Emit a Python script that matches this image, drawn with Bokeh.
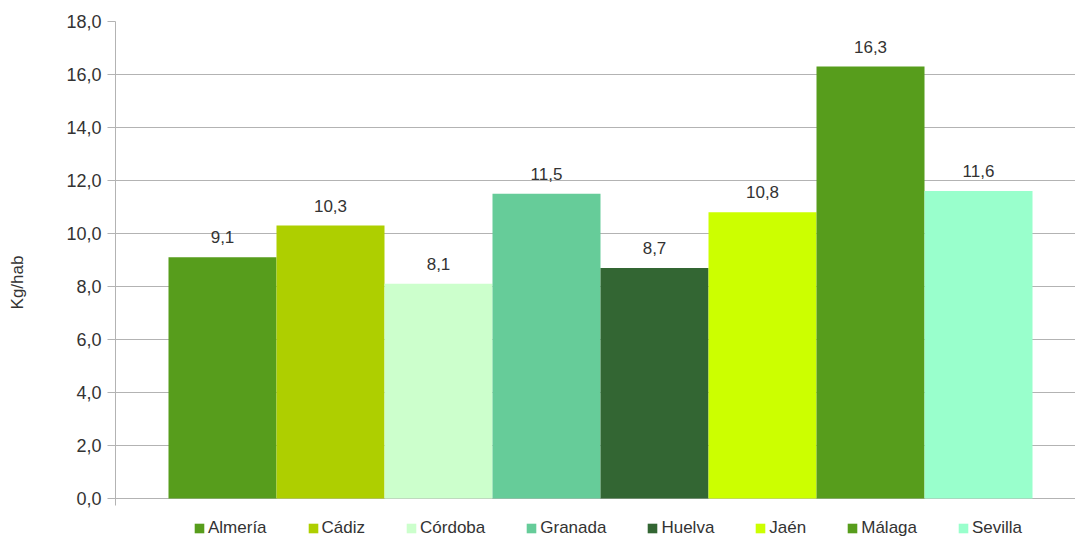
from bokeh.plotting import figure
from bokeh.models import ColumnDataSource, Legend, LegendItem, CustomJSTickFormatter, FixedTicker, Range1d
from bokeh.core.properties import value
from bokeh.embed import file_html
from bokeh.resources import INLINE

provinces = ["Almería", "Cádiz", "Córdoba", "Granada", "Huelva", "Jaén", "Málaga", "Sevilla"]
values = [9.1, 10.3, 8.1, 11.5, 8.7, 10.8, 16.3, 11.6]
colors = ["#579d1c", "#aecf00", "#ccffcc", "#66cc99", "#336633", "#ccff00", "#579d1c", "#99ffcc"]
y_ticks = [0, 2, 4, 6, 8, 10, 12, 14, 16, 18]

FONT = "Liberation Sans"

src = ColumnDataSource(dict(
    x=[i + 0.5 for i in range(len(provinces))],
    top=values,
    lab=[f"{v:.1f}".replace(".", ",") for v in values],
))

W, H = 1075, 543
p = figure(width=W, height=H, output_backend="svg", toolbar_location=None,
           x_range=Range1d(-0.4907, 8.398), y_range=Range1d(-1.698, 18),
           x_axis_location=None,
           min_border_left=115, min_border_right=0, min_border_top=21, min_border_bottom=0)
p.outline_line_color = None
p.background_fill_color = "white"
p.xgrid.visible = False
p.ygrid.grid_line_color = "#b3b3b3"
p.ygrid.grid_line_width = 1

ax = p.yaxis[0]
ax.ticker = FixedTicker(ticks=y_ticks)
ax.bounds = (-0.28, 18)
ax.formatter = CustomJSTickFormatter(code="return tick.toFixed(1).replace('.', ',');")
ax.axis_line_color = "#b3b3b3"
ax.major_tick_line_color = "#b3b3b3"
ax.major_tick_out = 8
ax.major_tick_in = 0
ax.minor_tick_line_color = None
ax.major_label_standoff = 6
ax.major_label_text_font = FONT
ax.major_label_text_font_size = "18px"
ax.major_label_text_color = "#333333"
ax.axis_label = "Kg/hab"
ax.axis_label_text_font = FONT
ax.axis_label_text_font_size = "17px"
ax.axis_label_text_font_style = "normal"
ax.axis_label_text_color = "#333333"
ax.axis_label_standoff = 36

items = []
for i, name in enumerate(provinces):
    r = p.vbar(x=[i + 0.5], top=[values[i]], width=1.0, bottom=0,
               fill_color=colors[i], line_color=None)
    items.append(LegendItem(label=name, renderers=[r]))

p.text(x="x", y="top", text="lab", source=src, text_align="center", text_baseline="bottom",
       y_offset=-14, text_font_size="17px", text_color="#333333", text_font=value(FONT))

legend = Legend(items=items, orientation="horizontal", location=(78, 5),
                label_text_font=FONT, label_text_font_size="17px", label_text_color="#333333",
                glyph_width=12, glyph_height=12, label_standoff=3, spacing=40,
                padding=0, margin=0, border_line_color=None, background_fill_alpha=0,
                label_height=17)
p.add_layout(legend, "center")

open("out.html", "w").write(file_html(p, INLINE))
